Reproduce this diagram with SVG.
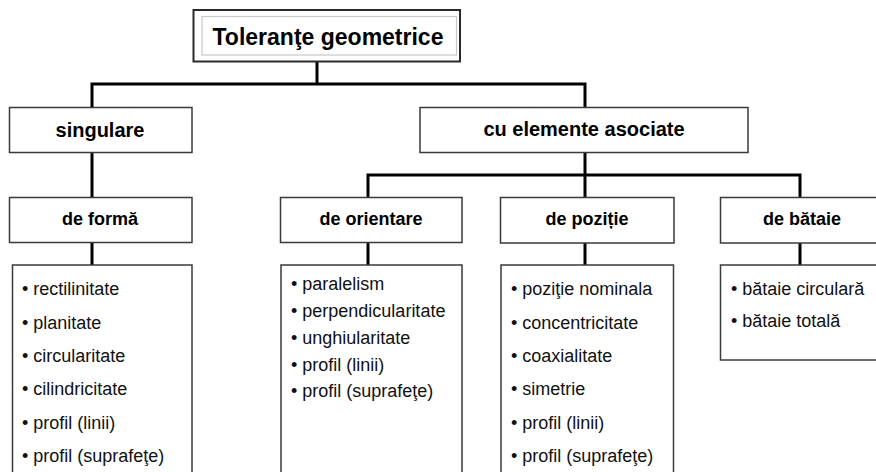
<svg xmlns="http://www.w3.org/2000/svg" width="876" height="472" viewBox="0 0 876 472">
<style>
.box{fill:#fff;stroke:#3a3a3a;stroke-width:1.5}
.conn{fill:none;stroke:#000;stroke-width:3;stroke-linecap:square}
.t2{font-family:"Liberation Sans",Arial,sans-serif;font-weight:bold;font-size:20px;fill:#000;text-anchor:middle}
.t3{font-family:"Liberation Sans",Arial,sans-serif;font-weight:bold;font-size:18px;fill:#000;text-anchor:middle}
.li{font-family:"Liberation Sans",Arial,sans-serif;font-size:18px;fill:#111}
</style>
<rect width="876" height="472" fill="#fff"/>
<g id="connectors">
<path class="conn" d="M317,62 V84 M92,84 H585 M92,84 V107 M585,84 V107"/>
<path class="conn" d="M92,152 V197 M92,242 V265"/>
<path class="conn" d="M585,152 V197 M368,175 H800 M368,175 V197 M800,175 V197"/>
<path class="conn" d="M368,242 V265 M585,243 V265 M800,243 V265"/>
</g>
<g id="root">
<rect x="193.5" y="10" width="266.5" height="51.5" fill="#fff" stroke="#2a2a2a" stroke-width="2"/>
<rect x="202" y="16.5" width="254.5" height="38.5" fill="#fff" stroke="#c8c8c8" stroke-width="1.2"/>
<text x="328" y="45" font-family="'Liberation Sans',Arial,sans-serif" font-weight="bold" font-size="23" text-anchor="middle" fill="#000">Toleranţe geometrice</text>
</g>
<g id="singulare">
<rect class="box" x="9.5" y="107.5" width="182.5" height="45"/>
<text class="t2" x="100" y="137">singulare</text>
</g>
<g id="asociate">
<rect class="box" x="420" y="107.5" width="328" height="45"/>
<text class="t2" x="584" y="136">cu elemente asociate</text>
</g>
<g id="forma">
<rect class="box" x="9.5" y="197.5" width="182.5" height="45"/>
<text class="t3" x="100" y="225">de formă</text>
</g>
<g id="forma-list">
<rect class="box" x="12.5" y="265" width="179.5" height="220"/>
<text class="li" x="22" y="295">• rectilinitate</text>
<text class="li" x="22" y="328.5">• planitate</text>
<text class="li" x="22" y="362">• circularitate</text>
<text class="li" x="22" y="395">• cilindricitate</text>
<text class="li" x="22" y="428.5">• profil (linii)</text>
<text class="li" x="22" y="462">• profil (suprafeţe)</text>
</g>
<g id="orientare">
<rect class="box" x="280.5" y="197.5" width="181.5" height="45"/>
<text class="t3" x="371" y="225">de orientare</text>
</g>
<g id="orientare-list">
<rect class="box" x="281" y="265" width="181" height="220"/>
<text class="li" x="291" y="290">• paralelism</text>
<text class="li" x="291" y="317">• perpendicularitate</text>
<text class="li" x="291" y="343.5">• unghiularitate</text>
<text class="li" x="291" y="370.5">• profil (linii)</text>
<text class="li" x="291" y="397">• profil (suprafeţe)</text>
</g>
<g id="pozitie">
<rect class="box" x="500.5" y="197.5" width="173.5" height="45.5"/>
<text class="t3" x="587" y="225">de poziție</text>
</g>
<g id="pozitie-list">
<rect class="box" x="501" y="265" width="172.5" height="220"/>
<text class="li" x="511" y="295">• poziţie nominala</text>
<text class="li" x="511" y="328.5">• concentricitate</text>
<text class="li" x="511" y="362">• coaxialitate</text>
<text class="li" x="511" y="395">• simetrie</text>
<text class="li" x="511" y="428.5">• profil (linii)</text>
<text class="li" x="511" y="462">• profil (suprafeţe)</text>
</g>
<g id="bataie">
<rect class="box" x="720.5" y="197.5" width="160" height="45.5"/>
<text class="t3" x="802" y="225">de bătaie</text>
</g>
<g id="bataie-list">
<rect class="box" x="720.5" y="265" width="160" height="95"/>
<text class="li" x="731" y="295">• bătaie circulară</text>
<text class="li" x="731" y="327">• bătaie totală</text>
</g>
</svg>
